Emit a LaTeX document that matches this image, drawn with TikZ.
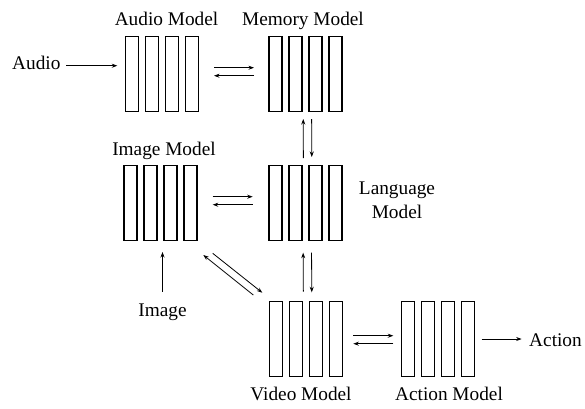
\documentclass[tikz,border=0pt]{standalone}
\usepackage{fontspec}
\setmainfont{Liberation Serif}
\usetikzlibrary{arrows.meta,calc}
\tikzset{
  grp/.style={minimum width=73pt, minimum height=75pt, inner sep=0pt, outer sep=0pt},
  bar/.style={draw=black, line width=1.7pt},
  lbl/.style={inner sep=0pt, outer sep=0pt, font=\fontsize{19.3}{21.3}\selectfont},
  arr/.style={draw=black, line width=0.8pt, -{Stealth[length=5.5pt,width=4pt]}},
}
\newcommand\mybars[1]{%
  \foreach \k in {0,1,2,3}{%
    \draw[bar] ([xshift=\k*20pt]#1.north west) rectangle ([xshift=\k*20pt+13pt]#1.south west);}}
\begin{document}
\begin{tikzpicture}[x=1pt,y=-1pt]
\useasboundingbox (0,0) rectangle (585,408);
% model groups
\node[grp] (audio) at (162,74) {};
\node[grp] (memory) at (305.5,74) {};
\node[grp] (image) at (160.6,203) {};
\node[grp] (language) at (305.7,203) {};
\node[grp] (video) at (306,339) {};
\node[grp] (action) at (438,339) {};
\mybars{audio}\mybars{memory}\mybars{image}\mybars{language}\mybars{video}\mybars{action}
% labels
\node[lbl, anchor=base] (audiotitle) at (166.5,25) {Audio Model};
\node[lbl, anchor=base] (memorytitle) at (303,25) {Memory Model};
\node[lbl, anchor=base] (imagetitle) at (164,155) {Image Model};
\node[lbl, anchor=base, align=center] (langtitle) at (397,218) {Language\\[2pt]Model};
\node[lbl, anchor=base] (videotitle) at (301,400) {Video Model};
\node[lbl, anchor=base] (actiontitle) at (449,400) {Action Model};
\node[lbl, anchor=base] (atext) at (36.3,69.3) {Audio};
\node[lbl, anchor=base] (itext) at (162.5,316.3) {Image};
\node[lbl, anchor=base] (acttext) at (555.5,346) {Action};
% input / output arrows
\draw[arr, shorten <=5.8pt, shorten >=8.2pt] ([yshift=3.6pt]atext.base east) -- ([yshift=3.6pt]atext.base east -| audio.west);
\draw[arr, shorten <=11.8pt, shorten >=11.5pt] (itext.north) -- (itext.north |- image.south);
\draw[arr, shorten <=7.2pt, shorten >=7.6pt] (action.east) -- (action.east -| acttext.west);
% audio <-> memory
\draw[arr, shorten <=15.5pt, shorten >=15pt] ([yshift=6.3pt]audio.east) -- ([yshift=6.3pt]memory.west);
\draw[arr, shorten <=15pt, shorten >=15.5pt] ([yshift=-1.7pt]memory.west) -- ([yshift=-1.7pt]audio.east);
% image <-> language
\draw[arr, shorten <=15.6pt, shorten >=16.5pt] ([yshift=6.3pt]image.east) -- ([yshift=6.3pt]language.west);
\draw[arr, shorten <=16.5pt, shorten >=15.6pt] ([yshift=-1.7pt]language.west) -- ([yshift=-1.7pt]image.east);
% video <-> action
\draw[arr, shorten <=10.8pt, shorten >=8.2pt] ([yshift=3.3pt]video.east) -- ([yshift=3.3pt]action.west);
\draw[arr, shorten <=8.2pt, shorten >=10.8pt] ([yshift=-4.7pt]action.west) -- ([yshift=-4.7pt]video.east);
% memory <-> language
\draw[arr, shorten <=7.5pt, shorten >=7.5pt] ([xshift=-2.3pt]language.north) -- ([xshift=-2.3pt]memory.south);
\draw[arr, shorten <=7.5pt, shorten >=8.5pt] ([xshift=6.1pt]memory.south) -- ([xshift=6.1pt]language.north);
% language <-> video
\draw[arr, shorten <=9.8pt, shorten >=12.2pt] ([xshift=-2.6pt]video.north) -- ([xshift=-2.6pt]language.south);
\draw[arr, shorten <=12.2pt, shorten >=9.2pt] ([xshift=5.8pt]language.south) -- ([xshift=5.8pt]video.north);
% image <-> video (diagonal)
\draw[arr] ([shift={(-16.2,-6.5)}]video.north west) -- ([shift={(6.2,14.5)}]image.south east);
\draw[arr] ([shift={(15.6,12.8)}]image.south east) -- ([shift={(-7.2,-8.8)}]video.north west);
\end{tikzpicture}
\end{document}
